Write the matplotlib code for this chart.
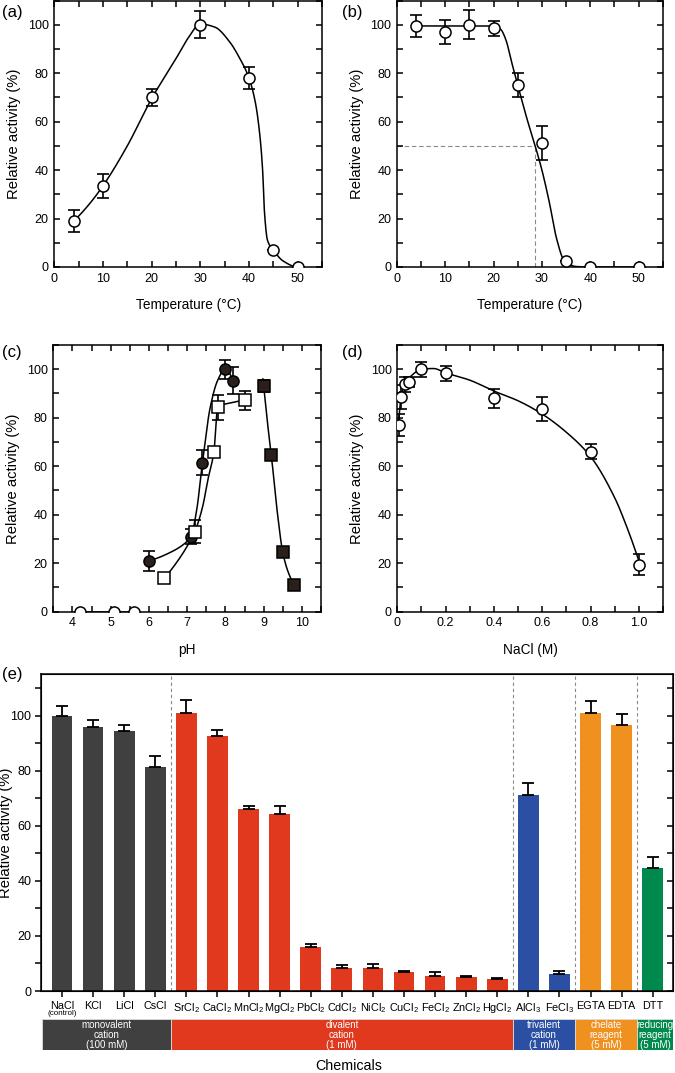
import numpy as np
import matplotlib
matplotlib.use("Agg")
import matplotlib.pyplot as plt
from matplotlib.ticker import MultipleLocator, FixedLocator
from matplotlib import font_manager

_names = {f.name for f in font_manager.fontManager.ttflist}
NARROW = 'Liberation Sans Narrow' if 'Liberation Sans Narrow' in _names else None

plt.rcParams['font.family'] = ['Liberation Sans', 'DejaVu Sans']
plt.rcParams['mathtext.fontset'] = 'custom'
plt.rcParams['mathtext.rm'] = NARROW or 'Liberation Sans'
plt.rcParams['mathtext.it'] = (NARROW or 'Liberation Sans') + ':italic'
plt.rcParams['mathtext.bf'] = (NARROW or 'Liberation Sans') + ':bold'

# ---------------- data ----------------
# (a) temperature optimum
a_temp = [4, 10, 20, 30, 40, 45, 50]
a_act = [19, 33.5, 70, 100, 78, 7, 0]
a_err = [4.5, 5, 3.5, 5.5, 4.5, 0, 0]
a_curve_x = [4, 7, 10, 15, 20, 25, 27.5, 30, 33, 36, 38, 40, 41.3, 42.2, 42.8, 43.2, 43.8, 45, 47, 50]
a_curve_y = [19, 25.5, 33.5, 50, 69.5, 86, 94.5, 100.3, 99, 93, 86.5, 78, 68, 55, 40, 22, 11, 7, 2.5, 0]

# (b) thermostability
b_temp = [4, 10, 15, 20, 25, 30, 35, 40, 50]
b_act = [99.5, 97, 100, 98.5, 75, 51, 2.5, 0, 0]
b_err = [4.5, 5, 6, 3, 5, 7, 0, 0, 0]
b_curve_x = [4, 20, 21.5, 22.5, 23.8, 25, 27, 28.6, 30, 31.5, 33, 34.5, 35.5, 37, 40, 50]
b_curve_y = [99.5, 99.5, 98, 94, 84, 75, 60.5, 50, 40, 27, 12, 3, 1.2, 0.2, 0, 0]
b_half_temp = 28.6
b_half_act = 50

# (c) pH profile
c_ph1 = [4.2, 5.1, 5.6]            # open circles
c_act1 = [0, 0, 0]
c_ph2 = [6.0, 7.1, 7.4, 8.0, 8.2]  # filled circles
c_act2 = [21, 31, 61.5, 100, 95.3]
c_err2 = [4.2, 3, 5, 4, 5.5]
c_ph3 = [6.4, 7.2, 7.7, 7.8, 8.5]  # open squares
c_act3 = [13.8, 33, 66, 84.3, 87.2]
c_err3 = [1.5, 4.8, 1.5, 5.2, 4]
c_ph4 = [9.0, 9.2, 9.5, 9.8]       # filled squares
c_act4 = [93.2, 64.8, 24.5, 11.2]
c_err4 = [2.5, 0.8, 2, 2]
c_curve2_x = [6.0, 6.5, 7.0, 7.1, 7.25, 7.4, 7.6, 7.8, 8.0, 8.1, 8.2]
c_curve2_y = [21, 24, 29, 31, 42, 61.5, 84, 95.5, 100.2, 98.5, 95.3]
c_curve3_x = [6.4, 6.8, 7.0, 7.2, 7.4, 7.55, 7.7, 7.8, 8.1, 8.5]
c_curve3_y = [13.8, 22, 27, 33, 43, 55, 66, 84.3, 86, 87.2]
c_curve4_x = [8.98, 9.0, 9.1, 9.2, 9.35, 9.5, 9.65, 9.8]
c_curve4_y = [96, 93.2, 78, 64.8, 42, 24.5, 16, 11.2]

# (d) NaCl dependence
d_nacl = [0.005, 0.015, 0.03, 0.05, 0.1, 0.2, 0.4, 0.6, 0.8, 1.0]
d_act = [76.9, 88.5, 93.8, 94.6, 100, 98.3, 88, 83.6, 66, 19.3]
d_err = [4.5, 5, 3, 2, 3, 3, 4, 5, 3.2, 4.3]
d_curve_x = [0.005, 0.015, 0.03, 0.06, 0.1, 0.15, 0.2, 0.3, 0.4, 0.5, 0.6, 0.7, 0.8, 0.9, 0.95, 1.0]
d_curve_y = [77, 88, 93.5, 97.5, 100, 100.3, 98.5, 95.5, 91, 87, 81.5, 74, 64, 47, 35, 21]

# (e) effect of chemicals
e_names = ["NaCl", "KCl", "LiCl", "CsCl", "SrCl$_2$", "CaCl$_2$", "MnCl$_2$", "MgCl$_2$",
           "PbCl$_2$", "CdCl$_2$", "NiCl$_2$", "CuCl$_2$", "FeCl$_2$", "ZnCl$_2$", "HgCl$_2$",
           "AlCl$_3$", "FeCl$_3$", "EGTA", "EDTA", "DTT"]
e_act = [100, 95.7, 94.3, 81.3, 100.8, 92.7, 66.1, 64.2, 15.8, 8.5, 8.4, 6.8, 5.5, 5.0, 4.4,
         71.0, 6.2, 101, 96.7, 44.8]
e_err = [3.5, 2.8, 2.4, 4.2, 4.9, 2.1, 1.2, 3.1, 1.3, 1.0, 1.4, 0.6, 1.3, 0.6, 0.4,
         4.5, 1.2, 4.2, 3.9, 3.8]
e_group_names = ["monovalent\ncation\n(100 mM)", "divalent\ncation\n(1 mM)",
                 "trivalent\ncation\n(1 mM)", "chelate\nreagent\n(5 mM)",
                 "reducing\nreagent\n(5 mM)"]
e_group_sizes = [4, 11, 2, 2, 1]
e_group_colors = ["#404040", "#e0391e", "#2b50a3", "#f0901f", "#00894c"]


# ---------------- helpers ----------------
def pchip(x, y, xn):
    x = np.asarray(x, float); y = np.asarray(y, float)
    h = np.diff(x); d = np.diff(y) / h
    n = len(x)
    m = np.zeros(n)
    for k in range(1, n - 1):
        if d[k - 1] * d[k] > 0:
            w1 = 2 * h[k] + h[k - 1]; w2 = h[k] + 2 * h[k - 1]
            m[k] = (w1 + w2) / (w1 / d[k - 1] + w2 / d[k])
        else:
            m[k] = 0.0
    def end(h0, h1, d0, d1):
        v = ((2 * h0 + h1) * d0 - h0 * d1) / (h0 + h1)
        if np.sign(v) != np.sign(d0):
            v = 0.0
        elif np.sign(d0) != np.sign(d1) and abs(v) > abs(3 * d0):
            v = 3 * d0
        return v
    if n > 2:
        m[0] = end(h[0], h[1], d[0], d[1])
        m[-1] = end(h[-1], h[-2], d[-1], d[-2])
    else:
        m[:] = d[0]
    xn = np.asarray(xn, float)
    idx = np.clip(np.searchsorted(x, xn) - 1, 0, n - 2)
    t = (xn - x[idx]) / h[idx]
    h00 = 2 * t**3 - 3 * t**2 + 1; h10 = t**3 - 2 * t**2 + t
    h01 = -2 * t**3 + 3 * t**2; h11 = t**3 - t**2
    return h00 * y[idx] + h10 * h[idx] * m[idx] + h01 * y[idx + 1] + h11 * h[idx] * m[idx + 1]


def curve(ax, xs, ys, **kw):
    xn = np.linspace(xs[0], xs[-1], 800)
    ax.plot(xn, pchip(xs, ys, xn), color='black', lw=1.1, zorder=2, **kw)


W, H = 675, 1073
def rect(l, r, t, b):
    return [l / W, 1 - b / H, (r - l) / W, (b - t) / H]

TICK_FS = 9
XLAB_FS = 9.8
YLAB_FS = 10.6

fig = plt.figure(figsize=(W / 100, H / 100), dpi=100)

def style_ax(ax):
    for s in ax.spines.values():
        s.set_linewidth(1.1)
    ax.tick_params(which='both', direction='in', top=True, right=True,
                   length=4, width=1.1, labelsize=TICK_FS, pad=4)

def points(ax, x, y, err, marker, face, ms=8):
    if err is not None:
        ax.errorbar(x, y, yerr=err, fmt='none', ecolor='black', elinewidth=1.2,
                    capsize=4, capthick=1.2, zorder=3)
    ax.plot(x, y, linestyle='none', marker=marker, ms=ms, mfc=face, mec='black',
            mew=1.1, zorder=4)

def common(ax, xlabel):
    ax.set_xlabel(xlabel, fontsize=XLAB_FS, labelpad=10)
    ax.set_ylabel("Relative activity (%)", fontsize=YLAB_FS)
    ax.yaxis.set_label_coords(-0.124, 0.5)

DARK = '#2a1f1b'

# (a)
ax = fig.add_axes(rect(54.3, 322, 0.5, 267))
style_ax(ax)
curve(ax, a_curve_x, a_curve_y)
points(ax, a_temp, a_act, a_err, 'o', 'white')
ax.set_xlim(0, 55); ax.set_ylim(0, 110)
ax.xaxis.set_major_locator(FixedLocator([0, 10, 20, 30, 40, 50]))
ax.xaxis.set_minor_locator(MultipleLocator(5))
ax.yaxis.set_major_locator(FixedLocator([0, 20, 40, 60, 80, 100]))
ax.yaxis.set_minor_locator(MultipleLocator(10))
common(ax, "Temperature (°C)")
fig.text(2 / W, 1 - 13 / H, "(a)", fontsize=12, va='center', ha='left')

# (b)
ax = fig.add_axes(rect(397, 662.7, 0.5, 267))
style_ax(ax)
ax.plot([0, b_half_temp], [b_half_act, b_half_act], ls=(0, (4, 2.5)), color='#8a8a8a', lw=0.8, zorder=1)
ax.plot([b_half_temp, b_half_temp], [0, b_half_act], ls=(0, (4, 2.5)), color='#8a8a8a', lw=0.8, zorder=1)
curve(ax, b_curve_x, b_curve_y)
points(ax, b_temp, b_act, b_err, 'o', 'white')
ax.set_xlim(0, 55); ax.set_ylim(0, 110)
ax.xaxis.set_major_locator(FixedLocator([0, 10, 20, 30, 40, 50]))
ax.xaxis.set_minor_locator(MultipleLocator(5))
ax.yaxis.set_major_locator(FixedLocator([0, 20, 40, 60, 80, 100]))
ax.yaxis.set_minor_locator(MultipleLocator(10))
common(ax, "Temperature (°C)")
fig.text(342 / W, 1 - 13 / H, "(b)", fontsize=12, va='center', ha='left')

# (c)
ax = fig.add_axes(rect(53.3, 321, 345, 611.7))
style_ax(ax)
ax.plot(c_ph1, c_act1, color='black', lw=1.1, zorder=2)
curve(ax, c_curve2_x, c_curve2_y)
curve(ax, c_curve3_x, c_curve3_y)
curve(ax, c_curve4_x, c_curve4_y)
points(ax, c_ph1, c_act1, None, 'o', 'white')
points(ax, c_ph2, c_act2, c_err2, 'o', DARK)
points(ax, c_ph3, c_act3, c_err3, 's', 'white', ms=8)
points(ax, c_ph4, c_act4, c_err4, 's', DARK, ms=8)
ax.set_xlim(3.5, 10.5); ax.set_ylim(0, 110)
ax.xaxis.set_major_locator(FixedLocator([4, 5, 6, 7, 8, 9, 10]))
ax.xaxis.set_minor_locator(MultipleLocator(0.5))
ax.yaxis.set_major_locator(FixedLocator([0, 20, 40, 60, 80, 100]))
ax.yaxis.set_minor_locator(MultipleLocator(10))
common(ax, "pH")
fig.text(2 / W, 1 - 353 / H, "(c)", fontsize=12, va='center', ha='left')

# (d)
ax = fig.add_axes(rect(397.3, 663, 345, 611.7))
style_ax(ax)
curve(ax, d_curve_x, d_curve_y)
points(ax, d_nacl, d_act, d_err, 'o', 'white')
ax.set_xlim(0, 1.1); ax.set_ylim(0, 110)
ax.xaxis.set_major_locator(FixedLocator([0, 0.2, 0.4, 0.6, 0.8, 1.0]))
ax.set_xticklabels(["0", "0.2", "0.4", "0.6", "0.8", "1.0"])
ax.xaxis.set_minor_locator(MultipleLocator(0.1))
ax.yaxis.set_major_locator(FixedLocator([0, 20, 40, 60, 80, 100]))
ax.yaxis.set_minor_locator(MultipleLocator(10))
common(ax, "NaCl (M)")
fig.text(342 / W, 1 - 353 / H, "(d)", fontsize=12, va='center', ha='left')

# (e)
ax = fig.add_axes(rect(41, 673.3, 674.3, 991))
for s in ax.spines.values():
    s.set_linewidth(1.1)
xpos = np.arange(len(e_names))
bar_colors = []
for c, n in zip(e_group_colors, e_group_sizes):
    bar_colors += [c] * n
ax.bar(xpos, e_act, width=0.665, color=bar_colors, zorder=2)
ax.errorbar(xpos, e_act, yerr=[np.zeros(len(e_act)), e_err], fmt='none', ecolor='black',
            elinewidth=1.3, capsize=4.3, capthick=1.3, zorder=3)
bounds = np.cumsum(e_group_sizes)[:-1] - 0.5
for bnd in bounds:
    ax.axvline(bnd, color='#8a8a8a', ls=(0, (3, 2.5)), lw=0.8, zorder=1)
ax.set_xlim(-0.675, 19.66); ax.set_ylim(0, 115)
ax.yaxis.set_major_locator(FixedLocator([0, 20, 40, 60, 80, 100]))
ax.yaxis.set_minor_locator(MultipleLocator(10))
ax.tick_params(axis='y', which='both', direction='out', length=4, width=1.1,
               labelsize=TICK_FS, right=False, pad=3)
ax.set_xticks(xpos)
if NARROW:
    ax.set_xticklabels(e_names, fontfamily=[NARROW, 'Liberation Sans'], fontsize=9.6)
else:
    ax.set_xticklabels(e_names, fontsize=7.8)
ax.tick_params(axis='x', direction='out', length=4, width=1.1, pad=3)
ax.set_ylabel("Relative activity (%)", fontsize=YLAB_FS)
ax.yaxis.set_label_coords(-0.0445, 0.5)
ax2 = ax.twinx()
ax2.set_ylim(0, 115)
ax2.yaxis.set_major_locator(FixedLocator([0, 20, 40, 60, 80, 100]))
ax2.yaxis.set_minor_locator(MultipleLocator(10))
ax2.tick_params(axis='y', which='both', direction='in', length=4, width=1.1, labelright=False)
ax.text(0, -8.2, "(control)", fontsize=5.8, ha='center', va='center',
        transform=ax.transData, clip_on=False)
fig.text(2 / W, 1 - 675 / H, "(e)", fontsize=12, va='center', ha='left')

# category strip
axs = fig.add_axes(rect(41, 673.3, 1019, 1050))
axs.set_xlim(-0.675, 19.66); axs.set_ylim(0, 1)
axs.axis('off')
starts = np.concatenate([[-0.64], bounds])
ends = np.concatenate([bounds, [19.66]])
for s0, s1, col, name in zip(starts, ends, e_group_colors, e_group_names):
    axs.barh(0.5, s1 - s0, left=s0, height=1, color=col, edgecolor='#dddddd', lw=0.6)
    axs.text((s0 + s1) / 2, 0.5, name, color='white', fontsize=7, ha='center',
             va='center', linespacing=1.0)

fig.text(349 / W, 1 - 1066 / H, "Chemicals", fontsize=XLAB_FS + 0.5, ha='center', va='center')

fig.savefig("out.png", dpi=100)
